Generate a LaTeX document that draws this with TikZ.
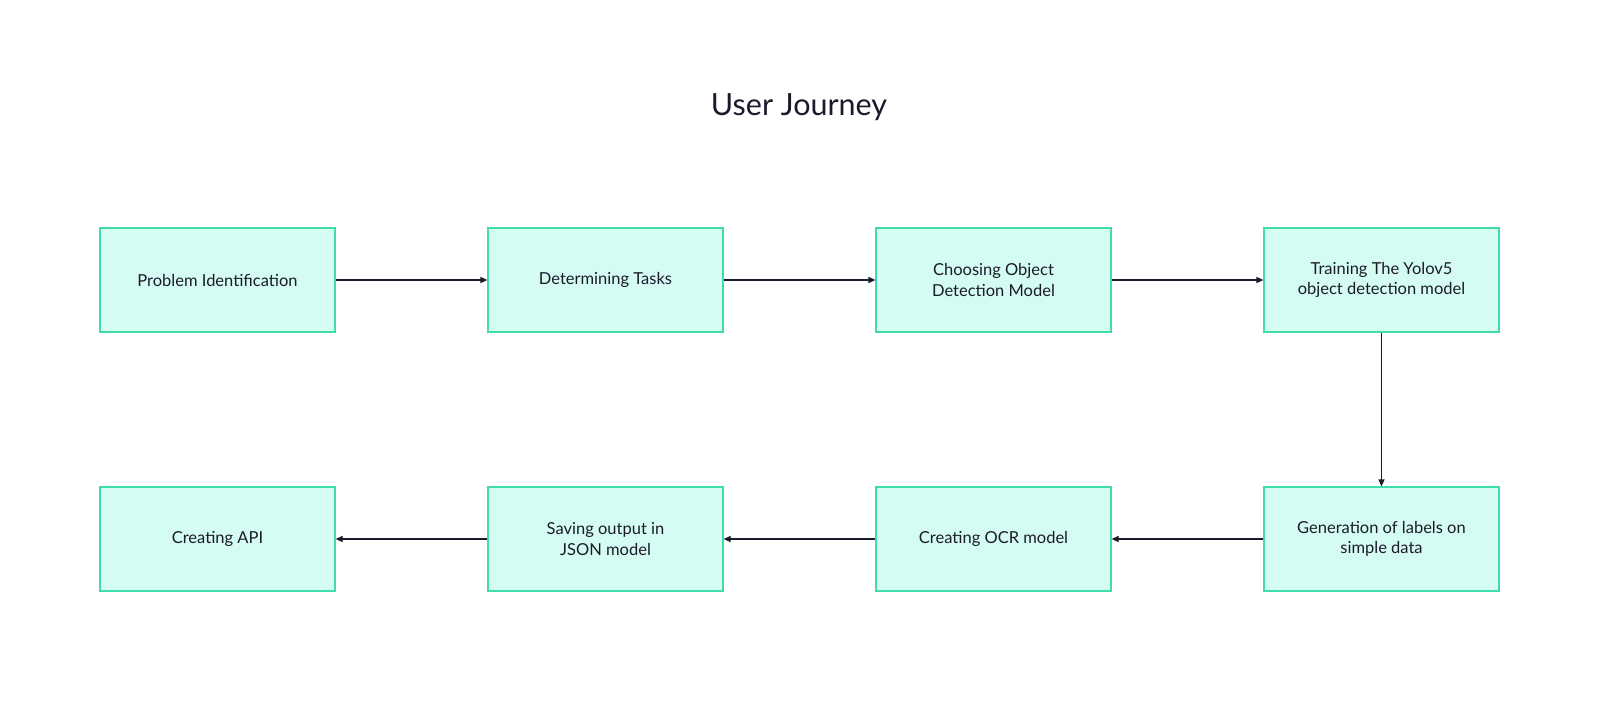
\documentclass[tikz,border=0pt]{standalone}
\usepackage{fontspec}
\setmainfont{Lato}
\usetikzlibrary{arrows.meta}
\definecolor{boxfill}{HTML}{D5FCF2}
\definecolor{boxline}{HTML}{3EDDAA}
\definecolor{ink}{HTML}{1B1A2C}
\tikzset{
  stepbox/.style={draw=boxline, line width=1.2pt, fill=boxfill, minimum width=235pt, minimum height=104pt, inner sep=0pt, align=center, text=ink, font=\fontsize{16.5}{20.5}\selectfont},
  conn/.style={draw=ink, line width=1.2pt, -{Triangle[length=7pt,width=6pt]}}
}
\begin{document}
\begin{tikzpicture}[x=1pt,y=-1pt]
\useasboundingbox[fill=white] (0,0) rectangle (1600,710);
\node[text=ink, font=\fontsize{30.5}{36}\selectfont] (title) at (799,107) {User Journey};
\node[stepbox] (a) at (217.5,280) {Problem Identification};
\node[stepbox] (b) at (605.5,280) {Determining Tasks};
\node[stepbox] (c) at (993.5,280) {Choosing Object\\Detection Model};
\node[stepbox] (d) at (1381.5,280) {Training The Yolov5\\object detection model};
\node[stepbox] (e) at (1381.5,539) {Generation of labels on\\simple data};
\node[stepbox] (f) at (993.5,539) {Creating OCR model};
\node[stepbox] (g) at (605.5,539) {Saving output in\\JSON model};
\node[stepbox] (h) at (217.5,539) {Creating API};
\draw[conn] (a) -- (b);
\draw[conn] (b) -- (c);
\draw[conn] (c) -- (d);
\draw[conn] (d) -- (e);
\draw[conn] (e) -- (f);
\draw[conn] (f) -- (g);
\draw[conn] (g) -- (h);
\end{tikzpicture}
\end{document}
